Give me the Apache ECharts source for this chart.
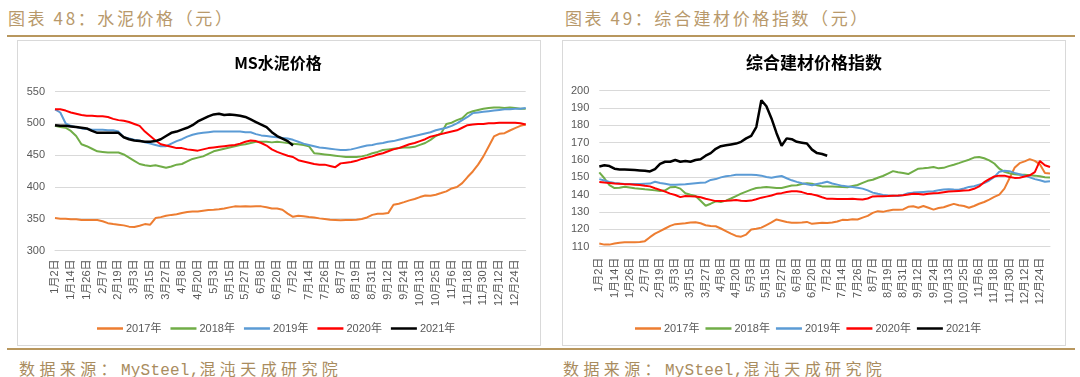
<!DOCTYPE html>
<html><head><meta charset="utf-8">
<script src="https://cdn.jsdelivr.net/npm/echarts@6/dist/echarts.min.js"></script>
<style>
html,body{margin:0;padding:0;width:1080px;height:377px;background:#fff;overflow:hidden;}
.abs{position:absolute;}
.hdr{font-family:"Noto Sans CJK SC",sans-serif;font-size:17px;letter-spacing:2.6px;color:#b8996b;white-space:nowrap;line-height:20px;}
.ftr{font-family:"Noto Sans CJK SC",sans-serif;font-size:16px;letter-spacing:4.4px;color:#a98c5e;white-space:nowrap;line-height:20px;}
.ftr .lat{font-family:"Liberation Mono",monospace;letter-spacing:0.2px;}
.box{border:1px solid #d9d9d9;box-sizing:border-box;}
.rule{background:#b8975e;height:2px;}
#chart{position:absolute;left:0;top:0;width:1080px;height:377px;}
</style>
</head><body>
<div class="abs hdr" style="left:8px;top:8px;">图表 48：水泥价格（元）</div>
<div class="abs hdr" style="left:565px;top:8px;">图表 49：综合建材价格指数（元）</div>
<div class="abs rule" style="left:7px;top:35px;width:1068px;"></div>
<div class="abs box" style="left:17px;top:40px;width:524px;height:306px;"></div>
<div class="abs box" style="left:562px;top:40px;width:504px;height:306px;"></div>
<div class="abs rule" style="left:7px;top:348px;width:1068px;"></div>
<div class="abs ftr" style="left:19px;top:358px;">数据来源：<span class="lat">MySteel,</span>混沌天成研究院</div>
<div class="abs ftr" style="left:563px;top:358px;">数据来源：<span class="lat">MySteel,</span>混沌天成研究院</div>
<div id="chart"></div>
<script>
const dates = ['1月2日','1月6日','1月10日','1月14日','1月18日','1月22日','1月26日','1月30日','2月3日','2月7日','2月11日','2月15日','2月19日','2月23日','2月27日','3月3日','3月7日','3月11日','3月15日','3月19日','3月23日','3月27日','3月31日','4月4日','4月8日','4月12日','4月16日','4月20日','4月24日','4月28日','5月3日','5月7日','5月11日','5月15日','5月19日','5月23日','5月27日','5月31日','6月4日','6月8日','6月12日','6月16日','6月20日','6月24日','6月28日','7月2日','7月6日','7月10日','7月14日','7月18日','7月22日','7月26日','7月30日','8月3日','8月7日','8月11日','8月15日','8月19日','8月23日','8月27日','8月31日','9月4日','9月8日','9月12日','9月16日','9月20日','9月24日','9月28日','10月9日','10月13日','10月17日','10月21日','10月25日','10月29日','11月2日','11月6日','11月10日','11月14日','11月18日','11月22日','11月26日','11月30日','12月4日','12月8日','12月12日','12月16日','12月20日','12月24日','12月27日','12月30日'];
const years = ['2017年','2018年','2019年','2020年','2021年'];
const colors = ['#ED7D31','#70AD47','#5B9BD5','#FF0000','#000000'];

// MS水泥价格
const cement2017 = [351,350,350,349,349,348,348,348,348,346,343,341.5,340.5,339.5,337.5,337,339,341.5,340.5,351,352.5,354.7,356,357,359,360.5,361.5,361.5,362.6,363.6,364,364.7,366,367.8,369.4,369,369.4,369,369.4,369.4,368,366,366,364,358,353,354.7,353.7,352.6,352,350.5,349.5,348.4,348,347.4,348,348,348.4,349.5,352,356,357.7,357.7,358.8,372,373.6,376,378.8,381,384,386.6,386,387.7,390.3,393,397.6,399.8,406,415.5,424.3,435,448,463.6,479.3,483.5,484.5,488.7,492.4,496,498];
const cement2018 = [496,494,493,488,480,467,464,460,456,455,454,454,454,451,446,441,436,434,433,434,432,430,432,435,436,440,444,446,448,452,456,458,460,462,464,466,467,469,471,471,471,470,471,470,469,468,467,466,464,453,452,451,450,449,448,447,447,447,448,450,453,455,458,459,460,461,462,462,463,466,469,474,480,484,499,501,505,508,516,519,521,523,524,525,525,524,525,524,523,523];
const cement2019 = [522,517,500,496,494,492,491,490,490,490,489,489,487,478,476,474,473,470,468,466,464,464,468,472,475,479,482,484,485,486,487,487,487,487,487,487,486,486,483,481,480,479,478,477,476,474,471,468,466,464,462,461,460,459,458,458,459,461,463,465,466,468,469,471,472,474,476,478,480,482,484,486,489,491,493,496,500,505,510,516,517,518,519,520,521,522,522,523,523,524];
const cement2020 = [522,522,520,517,515,513,512,512,511,511,510,507,505,504,502,499,496,487,480,473,467,465,463,461,461,459,458,457,459,461,462,463,464,465,466,468,471,473,472,469,465,459,455,452,449,447,442,440,438,436,435,435,433,431,437,438,439,441,444,446,448,451,453,456,459,461,464,467,469,472,475,479,481,483,485,487,489,493,497,498,499,499,500,500,501,501,501,501,500,498];
const cement2021 = [497,496,496,495,494,493,492,488,485,485,485,485,485,478,475,473,472,471,471,472,475,480,485,487,490,493,497,503,507,511,514,515,513,514,513,512,510,506,502,498,494,486,480,476,472,465];

// 综合建材价格指数
const index2017 = [111.8,111.2,111.2,111.8,112.3,112.5,112.6,112.6,112.7,113.2,115.5,117.5,119,120.5,122,123,123.3,123.5,124,124.1,123.5,122.4,122,121.8,120.5,119,117.5,116.2,115.8,117,119.9,120.3,121,122.5,124,125.7,125,124.2,123.8,123.8,124,124.3,123.2,123.5,123.8,123.7,124,124.5,125.5,125.4,125.8,125.7,126.8,127.8,129.5,130.5,130.1,130.8,131.3,131.3,131.5,133,133.3,132.5,133.5,132.5,131.4,132.3,132.8,133.8,134.7,133.9,133.5,132.5,133.5,134.8,135.8,137.2,138.7,140,143.5,149.5,155.5,158.2,159.2,160.5,159.5,157.5,152.5,152.3];
const index2018 = [152.9,149.5,145.5,143.8,144,144.6,144.2,143.7,143.4,143.1,142.9,142.5,142.2,142.5,144.3,144.5,143.5,140.8,140,139.3,136.5,133.6,134.8,136.2,135.8,136.6,137.8,139.2,140.6,141.8,142.9,143.9,144.1,144.4,144.2,143.9,143.9,144.6,145.3,145.5,146.2,146.6,146.3,145.5,144.8,144.8,144.8,144.6,144.4,144.3,145,145.6,146.8,148,148.6,149.8,150.8,152.2,153.6,153,152.5,151.9,153.5,155,155.2,155.5,156,155.2,155.5,156.5,157.3,158.2,159.2,160.2,161.4,161.8,161,159.8,158,155,153.2,152.4,151.8,151.5,151.5,151.2,151,150.6,150.1,149.9];
const index2019 = [149,148.2,147.3,146.8,146.4,146.2,146.2,146.2,146.2,146.3,146.4,147.5,146.8,146.3,145.8,145.8,145.9,146,146.3,146.6,146.9,147.1,148.5,149,150,150.6,151,151.5,151.5,151.5,151.5,151.3,151,150.2,149.8,150.3,150.8,149.5,148.3,147.4,146.6,146,145.5,146.2,146.8,147.5,146.5,145.8,145.1,144.8,144.4,144,143.5,142.5,141.2,140.5,139.9,139.6,139.4,139.2,139.8,140.8,141.2,141.4,141.6,141.8,142,142.6,143,143.2,143,142.9,143.6,144.5,144.9,145.8,146.7,148.2,150.3,153.3,153.8,153.6,152.6,151.8,151,150,149,148.3,147.5,147.8];
const index2020 = [147.3,147,146.8,146.5,146.3,146.1,146,145.8,145.6,145.1,144.8,143.7,142.8,141.8,140.6,139.8,138.6,139.3,139.1,139,138.5,137.7,137,136.3,136.4,136.5,136.7,137,136.5,136.4,136.6,137.4,138.3,138.9,139.5,140.5,140.9,141.5,142,142,141.5,140.6,140.2,139.5,138.5,137.6,137.6,137.5,137.5,137.5,137.6,137.4,137.2,137.8,139,139.1,139.1,139.2,139.4,139.5,139.7,140.1,140.6,140.4,140.1,140.5,140.8,141,141.4,141.8,142,142.2,142.4,142.6,143.4,144.8,147.2,149,150.5,151,151,150.2,149.7,149.8,150.5,151.2,153,159.5,157,156];
const index2021 = [156.3,157,156.5,155,154.6,154.5,154.4,154.2,154,153.8,153.4,154.8,157.8,159,159,160,159,159.5,159,160,160.5,162.5,164,166.5,168,168.5,169,169.5,170.5,172.5,174,179,194.5,191,184,175.5,168.2,172.5,172,170.5,170,169.5,166,164,163.5,162.5];

const cementSeries = [cement2017, cement2018, cement2019, cement2020, cement2021];
const indexSeries = [index2017, index2018, index2019, index2020, index2021];

const FONT = '"Liberation Sans","Noto Sans CJK SC",sans-serif';
const chart = echarts.init(document.getElementById('chart'), null, {renderer: 'canvas'});

function xAxis(gi, margin) {
  return {
    type: 'category', gridIndex: gi, data: dates, boundaryGap: false,
    axisLine: {show: true, lineStyle: {color: '#d9d9d9', width: 1}},
    axisTick: {show: false},
    axisLabel: {interval: 2, rotate: 90, margin: margin, color: '#595959', fontSize: 11, fontFamily: FONT}
  };
}
function yAxis(gi, min, max, interval) {
  return {
    type: 'value', gridIndex: gi, min: min, max: max, interval: interval,
    axisLine: {show: false}, axisTick: {show: false},
    axisLabel: {color: '#595959', fontSize: 11, margin: 10, fontFamily: FONT},
    splitLine: {lineStyle: {color: '#d9d9d9', width: 1}}
  };
}
function legend(left, gap) {
  return {
    data: years, left: left, top: 318, orient: 'horizontal',
    icon: 'rect', itemWidth: 26, itemHeight: 2.5, itemGap: gap,
    textStyle: {color: '#595959', fontSize: 11, fontFamily: FONT, padding: [0,0,0,-2]},
    selectedMode: false
  };
}
const series = [];
cementSeries.forEach((d, k) => series.push({
  name: years[k], type: 'line', xAxisIndex: 0, yAxisIndex: 0, data: d,
  showSymbol: false, symbol: 'none', z: k === 4 ? 5 : 2,
  lineStyle: {color: colors[k], width: k === 4 ? 2.5 : 2}, itemStyle: {color: colors[k]}
}));
indexSeries.forEach((d, k) => series.push({
  name: years[k], type: 'line', xAxisIndex: 1, yAxisIndex: 1, data: d,
  showSymbol: false, symbol: 'none', z: k === 4 ? 5 : 2,
  lineStyle: {color: colors[k], width: k === 4 ? 2.5 : 2}, itemStyle: {color: colors[k]}
}));

chart.setOption({
  animation: false,
  backgroundColor: 'transparent',
  grid: [
    {left: 55, top: 91.5, width: 470.7, height: 159},
    {left: 599.3, top: 90.7, width: 450.7, height: 156}
  ],
  xAxis: [xAxis(0, 9), xAxis(1, 11)],
  yAxis: [yAxis(0, 300, 550, 50), yAxis(1, 110, 200, 10)],
  legend: [legend(92, 9), legend(630, 6)],
  graphic: [
    {type: 'text', x: 278, y: 63, style: {text: 'MS水泥价格', textAlign: 'center', textVerticalAlign: 'middle', fill: '#000', font: 'bold 16px "Noto Sans CJK SC", sans-serif'}},
    {type: 'text', x: 814, y: 63, style: {text: '综合建材价格指数', textAlign: 'center', textVerticalAlign: 'middle', fill: '#000', font: 'bold 17px "Noto Sans CJK SC", sans-serif'}}
  ],
  series: series
});
</script>
</body></html>
